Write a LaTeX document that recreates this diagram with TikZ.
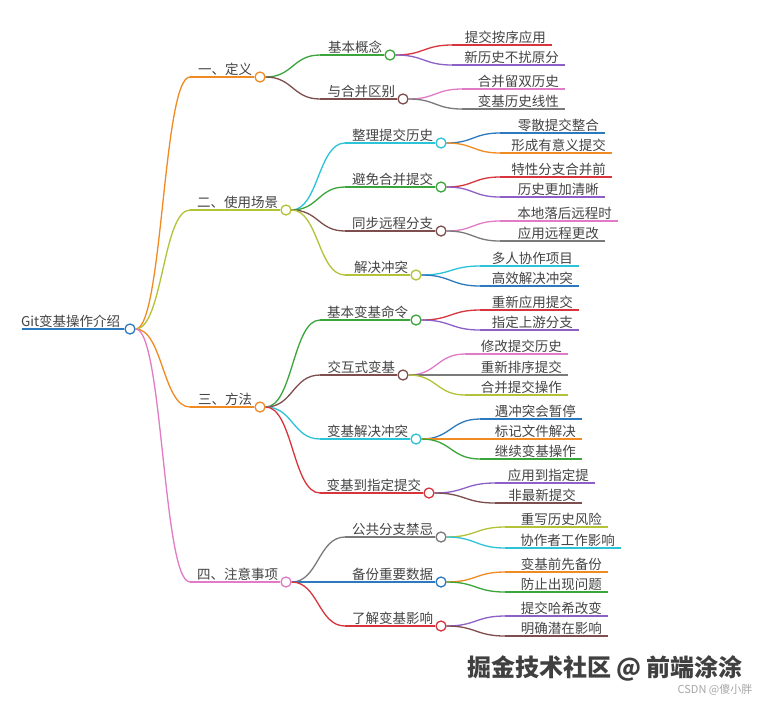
\documentclass[tikz,border=0pt]{standalone}
\usepackage{fontspec}
\usetikzlibrary{calc}
\setmainfont{Noto Sans CJK SC}
\definecolor{corange}{HTML}{F28A22}
\definecolor{colive}{HTML}{B3C236}
\definecolor{cgreen}{HTML}{3AA53A}
\definecolor{cred}{HTML}{D7343C}
\definecolor{cpurple}{HTML}{8D60C8}
\definecolor{cbrown}{HTML}{7E4E4E}
\definecolor{cpink}{HTML}{E17BC6}
\definecolor{cgray}{HTML}{7A7A7A}
\definecolor{ccyan}{HTML}{2CC3D8}
\definecolor{cblue}{HTML}{2C79BE}
\definecolor{ctext}{HTML}{444444}
\tikzset{
  ln/.style={line width=1.3pt},
  dot/.style={circle,fill=white,line width=1.3pt,minimum size=10pt,inner sep=0pt},
  lbl/.style={font=\fontsize{13.5}{15}\selectfont,text=ctext,inner sep=1pt},
}
\newcommand\scurve[3]{%
  \draw[#3,ln] let \p1=(#1.east), \p2=(#2) in
    (\p1) .. controls ({(\x1+\x2)/2},\y1) and ({(\x1+\x2)/2},\y2) .. (\p2);
}
\newcommand\midnode[7]{%
  \node[dot,draw=#6] (#2) at (#4,#5) {};
  \coordinate (#2s) at (#3,#5);
  \scurve{#1}{#2s}{#6}
  \draw[#6,ln] (#2s) -- (#2.west);
  \node[lbl,anchor=south east] at ([xshift=-1pt]#2.west) {#7};
}
\newcommand\leafnode[7]{%
  \coordinate (#2s) at (#3,#5);
  \coordinate (#2) at (#4,#5);
  \scurve{#1}{#2s}{#6}
  \draw[#6,ln] (#2s) -- (#2);
  \node[lbl,anchor=south east] at ([xshift=-5pt]#2) {#7};
}
\begin{document}
\begin{tikzpicture}[x=1pt,y=-1pt]
\useasboundingbox[fill=white] (0,0) rectangle (770,705);
% root
\node[dot,draw=cblue] (root) at (130,329) {};
\coordinate (rootl) at (22,329);
\draw[cblue,ln] (rootl) -- (root.west);
\node[lbl,anchor=south east] at ([xshift=-3pt]root.west) {Git变基操作介绍};
% level 1
\midnode{root}{a}{190}{260}{77}{corange}{一、定义}
\midnode{root}{b}{190}{286}{210}{colive}{二、使用场景}
\midnode{root}{c}{190}{260}{407}{corange}{三、方法}
\midnode{root}{d}{190}{286}{582}{cpink}{四、注意事项}
% level 2
\midnode{a}{a1}{320}{390}{55}{cgreen}{基本概念}
\midnode{a}{a2}{320}{403}{99}{cbrown}{与合并区别}
\midnode{b}{b1}{345}{441}{143}{ccyan}{整理提交历史}
\midnode{b}{b2}{345}{441}{187}{cgreen}{避免合并提交}
\midnode{b}{b3}{345}{441}{231}{cbrown}{同步远程分支}
\midnode{b}{b4}{345}{416}{275}{colive}{解决冲突}
\midnode{c}{c1}{320}{416}{320}{cgreen}{基本变基命令}
\midnode{c}{c2}{320}{403}{375}{cbrown}{交互式变基}
\midnode{c}{c3}{320}{416}{439}{ccyan}{变基解决冲突}
\midnode{c}{c4}{320}{429}{493}{cred}{变基到指定提交}
\midnode{d}{d1}{345}{441}{537}{cgray}{公共分支禁忌}
\midnode{d}{d2}{345}{441}{582}{cblue}{备份重要数据}
\midnode{d}{d3}{345}{441}{626}{cred}{了解变基影响}
% leaves
\leafnode{a1}{a1a}{452}{552}{45}{cred}{提交按序应用}
\leafnode{a1}{a1b}{452}{565}{65}{cpurple}{新历史不扰原分}
\leafnode{a2}{a2a}{462}{565}{89}{cpink}{合并留双历史}
\leafnode{a2}{a2b}{462}{565}{109}{cgray}{变基历史线性}
\leafnode{b1}{b1a}{500}{605}{133}{cblue}{零散提交整合}
\leafnode{b1}{b1b}{500}{612}{153}{corange}{形成有意义提交}
\leafnode{b2}{b2a}{500}{612}{177}{cred}{特性分支合并前}
\leafnode{b2}{b2b}{500}{605}{197}{cpurple}{历史更加清晰}
\leafnode{b3}{b3a}{500}{618}{221}{cpink}{本地落后远程时}
\leafnode{b3}{b3b}{500}{605}{241}{cgray}{应用远程更改}
\leafnode{b4}{b4a}{480}{579}{266}{ccyan}{多人协作项目}
\leafnode{b4}{b4b}{480}{579}{286}{cblue}{高效解决冲突}
\leafnode{c1}{c1a}{480}{579}{310}{cred}{重新应用提交}
\leafnode{c1}{c1b}{480}{579}{330}{cpurple}{指定上游分支}
\leafnode{c2}{c2a}{465}{568}{354}{cpink}{修改提交历史}
\leafnode{c2}{c2b}{465}{568}{375}{cgray}{重新排序提交}
\leafnode{c2}{c2c}{465}{568}{395}{colive}{合并提交操作}
\leafnode{c3}{c3a}{480}{582}{419}{cblue}{遇冲突会暂停}
\leafnode{c3}{c3b}{480}{582}{439}{corange}{标记文件解决}
\leafnode{c3}{c3c}{480}{582}{459}{cgreen}{继续变基操作}
\leafnode{c4}{c4a}{495}{595}{483}{cpurple}{应用到指定提}
\leafnode{c4}{c4b}{495}{582}{503}{cbrown}{非最新提交}
\leafnode{d1}{d1a}{505}{608}{527}{colive}{重写历史风险}
\leafnode{d1}{d1b}{505}{621}{548}{ccyan}{协作者工作影响}
\leafnode{d2}{d2a}{505}{608}{572}{corange}{变基前先备份}
\leafnode{d2}{d2b}{505}{608}{592}{cgreen}{防止出现问题}
\leafnode{d3}{d3a}{505}{608}{616}{cpurple}{提交哈希改变}
\leafnode{d3}{d3b}{505}{608}{636}{cbrown}{明确潜在影响}
% watermarks
\node[anchor=center,font=\fontsize{24}{27}\selectfont\bfseries,text=black!75] (wm) at (605,668) {掘金技术社区 @ 前端涂涂};
\node[anchor=center,font=\fontsize{11}{13}\selectfont,text=black!35] (wm2) at (715,690) {CSDN @傻小胖};
\end{tikzpicture}
\end{document}
